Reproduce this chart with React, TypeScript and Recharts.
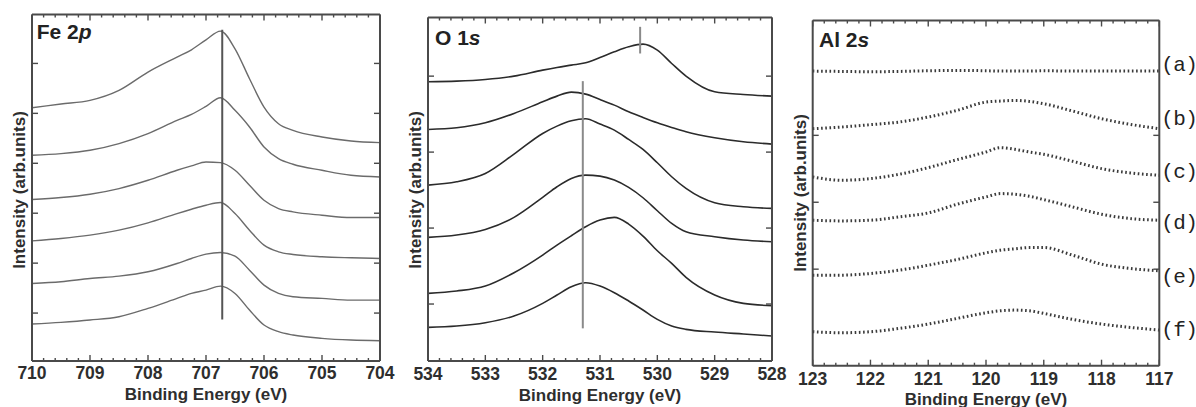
import React from 'react';
import { LineChart, Line, XAxis, YAxis, ReferenceLine, ReferenceDot } from 'recharts';

// ---------- Fe 2p ----------
const feEnergy = [710, 709.5, 709, 708.5, 708, 707.5, 707.25, 707, 706.75, 706.5, 706.25, 706, 705.75, 705.5, 705, 704.5, 704];
const feA = [761, 772, 783, 813, 868, 913, 935, 965, 991, 938, 848, 763, 713, 693, 673, 661, 656];
const feB = [618, 623, 633, 653, 683, 723, 741, 765, 791, 753, 703, 643, 608, 591, 573, 558, 553];
const feC = [485, 491, 501, 518, 543, 573, 586, 598, 596, 573, 528, 483, 458, 448, 438, 431, 431];
const feD = [361, 368, 378, 393, 415, 443, 456, 468, 476, 443, 393, 348, 328, 320, 313, 310, 308];
const feE = [233, 238, 248, 255, 268, 293, 308, 321, 326, 315, 273, 228, 203, 193, 188, 183, 183];
const feF = [111, 116, 123, 133, 158, 188, 203, 213, 225, 203, 153, 108, 88, 78, 68, 63, 61];
const feTicks = [710, 709, 708, 707, 706, 705, 704];
const feYTicks = [894, 744, 594, 444, 294, 144];
const feMarkers = [{ x: 706.72, y1: 125, y2: 995 }];

// ---------- O 1s ----------
const oEnergy = [534, 533.5, 533, 532.5, 532, 531.75, 531.5, 531.25, 531, 530.75, 530.5, 530.25, 530, 529.75, 529.5, 529, 528.5, 528];
const oA = [838, 840, 845, 855, 873, 881, 888, 895, 911, 928, 943, 951, 933, 893, 855, 808, 800, 795];
const oB = [695, 700, 715, 743, 778, 795, 807, 801, 785, 768, 748, 731, 715, 701, 688, 670, 658, 651];
const oC = [528, 538, 563, 621, 683, 705, 721, 727, 711, 693, 665, 635, 595, 553, 518, 475, 463, 458];
const oD = [371, 378, 395, 431, 491, 523, 548, 558, 555, 543, 521, 490, 451, 413, 388, 373, 363, 358];
const oE = [203, 210, 225, 265, 318, 348, 376, 403, 423, 431, 411, 375, 331, 293, 251, 198, 173, 166];
const oF = [101, 105, 115, 135, 173, 198, 223, 235, 225, 205, 180, 153, 125, 105, 95, 87, 81, 75];
const oTicks = [534, 533, 532, 531, 530, 529, 528];
const oYTicks = [855, 627, 399, 171];
const oMarkers = [
  { x: 530.3, y1: 923, y2: 1003 },
  { x: 531.3, y1: 98, y2: 840 },
];

// ---------- Al 2s ----------
const alEnergy = [123, 122.5, 122, 121.5, 121, 120.5, 120, 119.75, 119.5, 119.25, 119, 118.5, 118, 117.5, 117];
const alA = [885, 884, 883, 884, 886, 887, 886, 885, 885, 885, 886, 885, 885, 885, 885];
const alB = [712, 717, 724, 732, 747, 767, 792, 795, 797, 794, 787, 765, 742, 725, 712];
const alC = [567, 557, 562, 575, 595, 619, 642, 655, 650, 642, 635, 614, 592, 579, 572];
const alD = [437, 435, 437, 447, 459, 485, 507, 517, 515, 509, 499, 477, 455, 442, 437];
const alE = [272, 272, 277, 287, 302, 319, 339, 347, 351, 355, 355, 332, 305, 292, 285];
const alF = [102, 99, 102, 112, 125, 142, 159, 165, 167, 165, 157, 139, 125, 115, 107];
const alTicks = [123, 122, 121, 120, 119, 118, 117];
const alYTicks = [692, 491, 290];
const sampleLabels = ['(a)', '(b)', '(c)', '(d)', '(e)', '(f)'];
const sampleLabelY = [908, 746, 587, 434, 272, 113];

const FONT = '"Liberation Sans", Arial, Helvetica, sans-serif';
const FRAME = '#4a4a4a';

function minorTickValues(lo: number, hi: number): number[] {
  const out: number[] = [];
  const n = Math.round((hi - lo) / 0.2);
  for (let i = 0; i <= n; i++) out.push(Math.round((lo + i * 0.2) * 10) / 10);
  return out;
}

type PanelCfg = {
  left: number;
  width: number;
  marginTop: number;
  marginRight: number;
  yAxisWidth: number;
  xAxisHeight: number;
  tickMargin: number;
  labelOffset: number;
  energies: number[];
  series: number[][];
  majorTicks: number[];
  yTicks: number[];
  yMax: number;
  titleMain: string;
  titleItalic: string;
  titleX: number;
  titleY: number;
  yLabelX: number;
  yLabelY: number;
  stroke: string;
  strokeWidth: number;
  dash?: string;
  markers?: { x: number; y1: number; y2: number }[];
  markerColor?: string;
  sideLabels?: boolean;
};

function Panel(c: PanelCfg) {
  const lo = Math.min(...c.majorTicks);
  const hi = Math.max(...c.majorTicks);
  const data = c.energies.map((e, i) => {
    const row: any = { e };
    c.series.forEach((s, k) => (row['s' + k] = s[i]));
    return row;
  });
  const minors = minorTickValues(lo, hi);
  const plotH = 407 - c.marginTop - c.xAxisHeight;
  const plotW = c.width - c.yAxisWidth - c.marginRight;
  const yPerPx = c.yMax / plotH;
  const xPerPx = (hi - lo) / plotW;
  const tickStyle = { fill: '#2e2e2e', fontSize: 17.5, fontWeight: 700, fontFamily: FONT };

  // inward tick marks of the frame (drawn through the chart's own scales)
  const tickSegs: { x1: number; y1: number; x2: number; y2: number }[] = [];
  minors.forEach((v) => {
    const major = Math.abs(v - Math.round(v)) < 1e-6;
    const len = (major ? 6 : 3) * yPerPx;
    tickSegs.push({ x1: v, y1: 0, x2: v, y2: len });
    tickSegs.push({ x1: v, y1: c.yMax, x2: v, y2: c.yMax - len });
  });
  c.yTicks.forEach((t) => {
    const len = 6 * xPerPx;
    tickSegs.push({ x1: hi, y1: t, x2: hi - len, y2: t });
    tickSegs.push({ x1: lo, y1: t, x2: lo + len, y2: t });
  });

  return (
    <div style={{ position: 'absolute', left: c.left, top: 0, width: c.width, height: 407 }}>
      <LineChart
        width={c.width}
        height={407}
        data={data}
        margin={{ top: c.marginTop, right: c.marginRight, bottom: 0, left: 0 }}
      >
        <XAxis
          xAxisId="xm"
          dataKey="e"
          type="number"
          domain={[lo, hi]}
          allowDataOverflow
          reversed
          ticks={c.majorTicks}
          interval={0}
          tickLine={false}
          axisLine={false}
          height={c.xAxisHeight}
          tickMargin={c.tickMargin}
          tick={tickStyle}
          label={{
            value: 'Binding Energy (eV)',
            position: 'insideBottom',
            offset: c.labelOffset,
            style: { fill: '#2e2e2e', fontSize: 17, fontWeight: 700, fontFamily: FONT },
          }}
        />
        <XAxis
          xAxisId="xb"
          dataKey="e"
          type="number"
          domain={[lo, hi]}
          allowDataOverflow
          reversed
          mirror
          tick={false}
          tickLine={false}
          axisLine={{ stroke: FRAME, strokeWidth: 2 }}
        />
        <XAxis
          xAxisId="xt"
          dataKey="e"
          orientation="top"
          type="number"
          domain={[lo, hi]}
          allowDataOverflow
          reversed
          mirror
          tick={false}
          tickLine={false}
          axisLine={{ stroke: FRAME, strokeWidth: 2 }}
        />
        <YAxis
          yAxisId="ym"
          type="number"
          domain={[0, c.yMax]}
          allowDataOverflow
          width={c.yAxisWidth}
          tick={false}
          tickLine={false}
          axisLine={false}
        />
        <YAxis
          yAxisId="yl"
          type="number"
          domain={[0, c.yMax]}
          allowDataOverflow
          mirror
          tick={false}
          tickLine={false}
          axisLine={{ stroke: FRAME, strokeWidth: 2 }}
        />
        <YAxis
          yAxisId="yr"
          orientation="right"
          type="number"
          domain={[0, c.yMax]}
          allowDataOverflow
          mirror
          tick={false}
          tickLine={false}
          axisLine={{ stroke: FRAME, strokeWidth: 2 }}
        />
        {tickSegs.map((s, i) => (
          <ReferenceLine
            key={'t' + i}
            xAxisId="xm"
            yAxisId="ym"
            segment={[
              { x: s.x1, y: s.y1 },
              { x: s.x2, y: s.y2 },
            ]}
            stroke={FRAME}
            strokeWidth={1.4}
          />
        ))}
        {c.series.map((_, k) => (
          <Line
            key={k}
            xAxisId="xm"
            yAxisId="ym"
            dataKey={'s' + k}
            type="monotone"
            stroke={c.stroke}
            strokeWidth={c.strokeWidth}
            strokeDasharray={c.dash}
            dot={false}
            activeDot={false}
            isAnimationActive={false}
          />
        ))}
        {(c.markers || []).map((m, i) => (
          <ReferenceLine
            key={'m' + i}
            xAxisId="xm"
            yAxisId="ym"
            segment={[
              { x: m.x, y: m.y1 },
              { x: m.x, y: m.y2 },
            ]}
            stroke={c.markerColor}
            strokeWidth={2}
          />
        ))}
        {c.sideLabels &&
          sampleLabels.map((lab, i) => (
            <ReferenceDot
              key={lab}
              xAxisId="xm"
              yAxisId="ym"
              x={lo}
              y={sampleLabelY[i]}
              r={1}
              fill="none"
              stroke="none"
              ifOverflow="visible"
              label={{
                value: lab,
                position: 'right',
                offset: 1,
                style: {
                  fill: '#222',
                  fontSize: 21,
                  letterSpacing: -0.6,
                  fontFamily: '"Liberation Mono", "DejaVu Sans Mono", monospace',
                },
              }}
            />
          ))}
        <text x={c.titleX} y={c.titleY} fill="#222" fontSize={21} fontWeight={700} fontFamily={FONT}>
          {c.titleMain}
          <tspan fontStyle="italic">{c.titleItalic}</tspan>
        </text>
        <text
          x={c.yLabelX}
          y={c.yLabelY}
          transform={`rotate(-90 ${c.yLabelX} ${c.yLabelY})`}
          textAnchor="middle"
          dominantBaseline="central"
          fill="#2e2e2e"
          fontSize={17}
          fontWeight={700}
          fontFamily={FONT}
        >
          Intensity (arb.units)
        </text>
      </LineChart>
    </div>
  );
}

export default function App() {
  return (
    <div style={{ position: 'absolute', left: 0, top: 0, width: 1196, height: 407, background: '#fff', overflow: 'hidden' }}>
      <Panel
        left={0}
        width={400}
        marginTop={14.5}
        marginRight={20}
        yAxisWidth={32}
        xAxisHeight={46}
        tickMargin={0}
        labelOffset={7}
        energies={feEnergy}
        series={[feA, feB, feC, feD, feE, feF]}
        majorTicks={feTicks}
        yTicks={feYTicks}
        yMax={1041}
        titleMain="Fe 2"
        titleItalic="p"
        titleX={36.7}
        titleY={39.3}
        yLabelX={19}
        yLabelY={190}
        stroke="#6b6b6b"
        strokeWidth={1.4}
        markers={feMarkers}
        markerColor="#555"
      />
      <Panel
        left={390}
        width={400}
        marginTop={17.5}
        marginRight={18}
        yAxisWidth={38}
        xAxisHeight={46}
        tickMargin={1}
        labelOffset={6}
        energies={oEnergy}
        series={[oA, oB, oC, oD, oE, oF]}
        majorTicks={oTicks}
        yTicks={oYTicks}
        yMax={1031}
        titleMain="O 1"
        titleItalic="s"
        titleX={45}
        titleY={45}
        yLabelX={25.5}
        yLabelY={190}
        stroke="#2b2b2b"
        strokeWidth={1.6}
        markers={oMarkers}
        markerColor="#8a8a8a"
      />
      <Panel
        left={790}
        width={406}
        marginTop={20.5}
        marginRight={36.7}
        yAxisWidth={22.7}
        xAxisHeight={41.3}
        tickMargin={1}
        labelOffset={2.5}
        energies={alEnergy}
        series={[alA, alB, alC, alD, alE, alF]}
        majorTicks={alTicks}
        yTicks={alYTicks}
        yMax={1037}
        titleMain="Al 2"
        titleItalic="s"
        titleX={29}
        titleY={46.7}
        yLabelX={10}
        yLabelY={193}
        stroke="#3a3a3a"
        strokeWidth={3}
        dash="1.6 2.6"
        sideLabels
      />
    </div>
  );
}
